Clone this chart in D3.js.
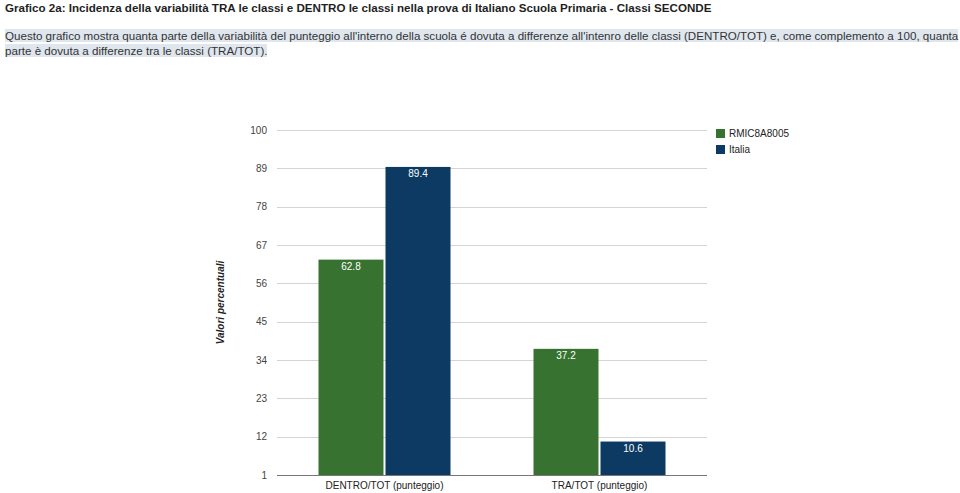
<!DOCTYPE html>
<html>
<head>
<meta charset="utf-8">
<script src="https://cdn.jsdelivr.net/npm/d3@7"></script>
<style>
  html, body { margin: 0; padding: 0; background: #fff; width: 960px; height: 493px; overflow: hidden; }
  body { font-family: "Liberation Sans", Arial, sans-serif; }
  #title { position: absolute; left: 5px; top: 0px; font-size: 11.6px; font-weight: bold; color: #1f1f1f; line-height: 15px; white-space: nowrap; }
  #desc { position: absolute; left: 5px; top: 28px; font-size: 11.6px; color: #333; line-height: 15px; white-space: nowrap; }
  #desc span { background: #dfe6ee; }
  svg { position: absolute; left: 0; top: 0; }
</style>
</head>
<body>
<div id="title"></div>
<div id="desc"></div>
<svg id="chart" width="960" height="493"></svg>
<script>
const titleText = "Grafico 2a: Incidenza della variabilità TRA le classi e DENTRO le classi nella prova di Italiano Scuola Primaria - Classi SECONDE";
const descLines = [
  "Questo grafico mostra quanta parte della variabilità del punteggio all'interno della scuola é dovuta a differenze all'intenro delle classi (DENTRO/TOT) e, come complemento a 100, quanta",
  "parte è dovuta a differenze tra le classi (TRA/TOT)."
];
const categories = ["DENTRO/TOT (punteggio)", "TRA/TOT (punteggio)"];
const seriesNames = ["RMIC8A8005", "Italia"];
const schoolValues = [62.8, 37.2];
const italiaValues = [89.4, 10.6];
const tickValues = [1, 12, 23, 34, 45, 56, 67, 78, 89, 100];
const yAxisTitle = "Valori percentuali";
const colors = ["#387230", "#0c3a63"];

(function () {
d3.select("#title").text(titleText);
const desc = d3.select("#desc");
descLines.forEach((l, i) => {
  desc.append("span").text(l);
  if (i < descLines.length - 1) desc.append("br");
});

const svg = d3.select("#chart");
const pL = 277, pR = 707, pT = 130, pB = 475;

const y = d3.scaleLinear().domain([1, 100]).range([pB, pT]);
const x = d3.scaleBand().domain(categories).range([pL, pR]).padding(0);
const bw = x.bandwidth();
const xs = d3.scaleBand().domain(seriesNames).range([bw / 2 - 66, bw / 2 + 66]).paddingInner(0.03);

// gridlines
svg.append("g").selectAll("line").data(tickValues.filter(t => t !== 1)).join("line")
  .attr("x1", pL).attr("x2", pR)
  .attr("y1", d => Math.round(y(d)) + 0.5).attr("y2", d => Math.round(y(d)) + 0.5)
  .attr("stroke", "#d4d4d4").attr("stroke-width", 1);

// y tick labels
const yAxis = svg.append("g").attr("transform", `translate(${pL},0)`)
  .call(d3.axisLeft(y).tickValues(tickValues).tickSize(0).tickPadding(10).tickFormat(d3.format("d")));
yAxis.select(".domain").remove();
yAxis.selectAll("text").attr("font-family", "Liberation Sans, Arial, sans-serif").attr("font-size", 10).attr("fill", "#444");

// bars
const data = categories.map((c, i) => ({ cat: c, vals: [
  { s: seriesNames[0], v: schoolValues[i], c: colors[0] },
  { s: seriesNames[1], v: italiaValues[i], c: colors[1] }
]}));
const groups = svg.append("g").selectAll("g").data(data).join("g")
  .attr("transform", d => `translate(${x(d.cat)},0)`);
groups.selectAll("rect").data(d => d.vals).join("rect")
  .attr("x", d => xs(d.s)).attr("width", xs.bandwidth())
  .attr("y", d => y(d.v)).attr("height", d => y(1) - y(d.v))
  .attr("fill", d => d.c);
groups.selectAll("text").data(d => d.vals).join("text")
  .attr("x", d => xs(d.s) + xs.bandwidth() / 2)
  .attr("y", d => y(d.v) + 10.5)
  .attr("text-anchor", "middle")
  .attr("font-family", "Liberation Sans, Arial, sans-serif").attr("font-size", 10)
  .attr("fill", "#fff").text(d => d.v);

// baseline
svg.append("line").attr("x1", pL).attr("x2", pR)
  .attr("y1", Math.round(y(1)) + 0.5).attr("y2", Math.round(y(1)) + 0.5)
  .attr("stroke", "#777").attr("stroke-width", 1);

// x axis labels
const xAxis = svg.append("g").attr("transform", `translate(0,${pB})`)
  .call(d3.axisBottom(x).tickSize(0).tickPadding(7));
xAxis.select(".domain").remove();
xAxis.selectAll("text").attr("font-family", "Liberation Sans, Arial, sans-serif").attr("font-size", 10).attr("fill", "#222");

// y-axis title
svg.append("text")
  .attr("transform", `translate(224,${(pT + pB) / 2}) rotate(-90)`)
  .attr("text-anchor", "middle")
  .attr("font-family", "Liberation Sans, Arial, sans-serif").attr("font-size", 10)
  .attr("font-style", "italic").attr("font-weight", "bold").attr("fill", "#222")
  .text(yAxisTitle);

// legend
const legend = svg.append("g").attr("transform", "translate(716,129)");
const li = legend.selectAll("g").data(seriesNames).join("g")
  .attr("transform", (d, i) => `translate(0,${i * 16})`);
li.append("rect").attr("width", 9).attr("height", 9).attr("fill", (d, i) => colors[i]);
li.append("text").attr("x", 13).attr("y", 8)
  .attr("font-family", "Liberation Sans, Arial, sans-serif").attr("font-size", 10).attr("fill", "#222")
  .text(d => d);
})();
</script>
</body>
</html>
